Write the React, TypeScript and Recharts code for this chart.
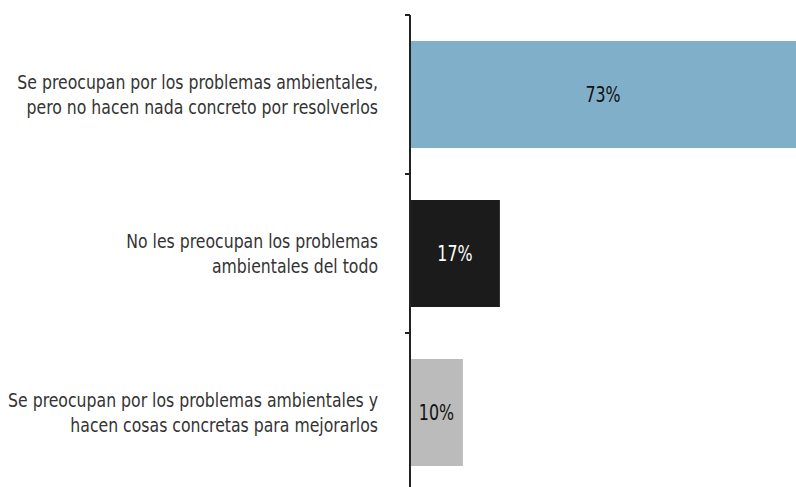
import { BarChart, Bar, XAxis, YAxis, Cell, LabelList } from 'recharts';

const categories = [
  ['Se preocupan por los problemas ambientales,', 'pero no hacen nada concreto por resolverlos'],
  ['No les preocupan los problemas', 'ambientales del todo'],
  ['Se preocupan por los problemas ambientales y', 'hacen cosas concretas para mejorarlos'],
];
const values = [73, 17, 10];
const barColors = ['#80AFC9', '#1B1B1B', '#BBBBBB'];
const labelColors = ['#111111', '#FFFFFF', '#111111'];

const data = categories.map((lines, i) => ({ name: String(i), value: values[i] }));

const FONT = '"DejaVu Sans Condensed", sans-serif';
const BAND = (492 - 15) / categories.length;

function CategoryTick(props: any) {
  const { x, y, payload } = props;
  const lines = categories[Number(payload.value)];
  const top = y - BAND / 2;
  return (
    <g>
      <line x1={x + 3} x2={x + 8} y1={top} y2={top} stroke="#222" strokeWidth={2} />
      {lines.map((line, j) => (
        <text
          key={j}
          transform={`translate(${x - 24},${y + (j - (lines.length - 1) / 2) * 25}) scale(0.895,1)`}
          textAnchor="end"
          dominantBaseline="central"
          fontFamily={FONT}
          fontSize={19.5}
          fill="#333"
        >
          {line}
        </text>
      ))}
    </g>
  );
}

function ValueLabel(props: any) {
  const { x, y, width, height, value, index } = props;
  return (
    <text
      transform={`translate(${x + width / 2},${y + height / 2}) scale(0.8,1)`}
      textAnchor="middle"
      dominantBaseline="central"
      fontFamily={FONT}
      fontSize={22}
      fill={labelColors[index]}
    >
      {value}%
    </text>
  );
}

export default function App() {
  return (
    <div style={{ position: 'absolute', left: 0, top: 0, width: 796, height: 487, overflow: 'hidden', background: '#fff' }}>
      <BarChart
        width={796}
        height={492}
        data={data}
        layout="vertical"
        margin={{ top: 15, right: 0, bottom: 0, left: 0 }}
        barCategoryGap={26}
      >
        <XAxis type="number" hide domain={[0, 'dataMax']} />
        <YAxis
          type="category"
          dataKey="name"
          width={410}
          axisLine={{ stroke: '#222', strokeWidth: 2 }}
          tickLine={false}
          tick={<CategoryTick />}
          interval={0}
        />
        <Bar dataKey="value" isAnimationActive={false}>
          {data.map((d, i) => (
            <Cell key={d.name} fill={barColors[i]} />
          ))}
          <LabelList dataKey="value" content={<ValueLabel />} />
        </Bar>
      </BarChart>
    </div>
  );
}
